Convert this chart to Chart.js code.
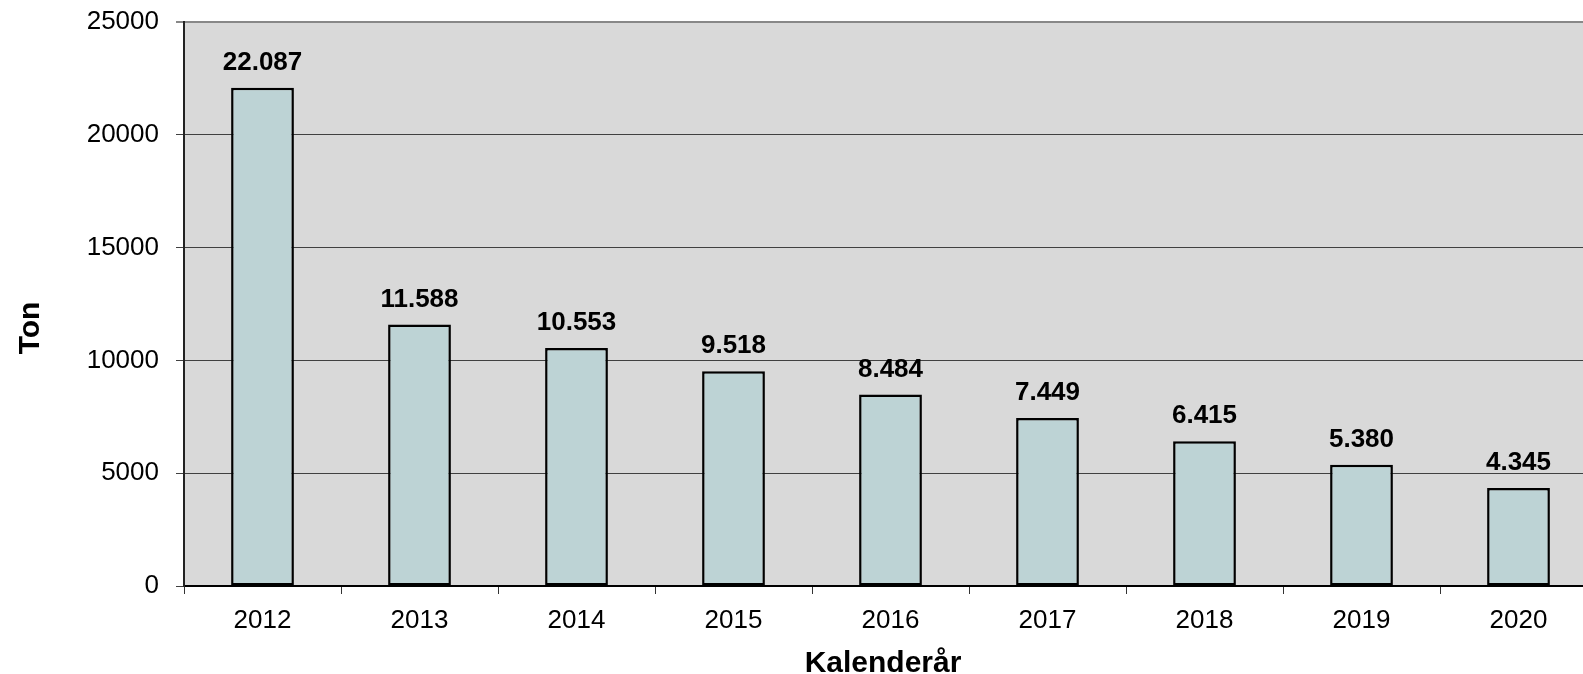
<!DOCTYPE html>
<html>
<head>
<meta charset="utf-8">
<script src="https://cdn.jsdelivr.net/npm/chart.js@4"></script>
<style>
  html, body { margin: 0; padding: 0; background: #fff; overflow: hidden; }
  /* the original picture is cut off on the right, so the canvas is a bit wider than the view */
  #wrap { width: 1583px; height: 674px; overflow: hidden; }
</style>
</head>
<body>
<div id="wrap"><canvas id="graph" width="1597" height="674"></canvas></div>
<script>
const years = ['2012', '2013', '2014', '2015', '2016', '2017', '2018', '2019', '2020'];
const tonValues = [22087, 11588, 10553, 9518, 8484, 7449, 6415, 5380, 4345];
const yTicks = [0, 5000, 10000, 15000, 20000, 25000];
const xTitle = 'Kalenderår';
const yTitle = 'Ton';

const ctx = document.getElementById('graph');
const FONT = '"Liberation Sans", Arial, sans-serif';

// 22087 -> "22.087"
function formatDk(v) {
  return String(v).replace(/\B(?=(\d{3})+(?!\d))/g, '.');
}

const plotBackground = {
  id: 'plotBackground',
  beforeDraw(chart) {
    const a = chart.chartArea;
    const c = chart.ctx;
    c.save();
    c.fillStyle = '#d9d9d9';
    c.fillRect(a.left, a.top, a.right - a.left, a.bottom - a.top);
    c.restore();
  }
};

const valueLabels = {
  id: 'valueLabels',
  afterDatasetsDraw(chart) {
    const c = chart.ctx;
    const meta = chart.getDatasetMeta(0);
    c.save();
    c.font = 'bold 26px ' + FONT;
    c.fillStyle = '#000';
    c.textAlign = 'center';
    c.textBaseline = 'middle';
    meta.data.forEach((bar, i) => {
      c.fillText(formatDk(tonValues[i]), bar.x, bar.y - 25);
    });
    c.restore();
  }
};

// axis titles, placed like in the original (Ton sits a bit below the middle)
const axisTitles = {
  id: 'axisTitles',
  afterDraw(chart) {
    const c = chart.ctx;
    c.save();
    c.font = 'bold 30px ' + FONT;
    c.fillStyle = '#000';
    c.textAlign = 'center';
    c.textBaseline = 'middle';
    c.fillText(xTitle, 883, 664);
    c.translate(31, 328);
    c.rotate(-Math.PI / 2);
    c.fillText(yTitle, 0, 0);
    c.restore();
  }
};

Chart.defaults.font.family = FONT;
Chart.defaults.color = '#000';

new Chart(ctx, {
  type: 'bar',
  data: {
    labels: years,
    datasets: [{
      label: yTitle,
      data: tonValues,
      backgroundColor: '#bdd3d5',
      borderColor: '#000',
      borderWidth: 2.5,
      borderSkipped: false,
      categoryPercentage: 1,
      barPercentage: 0.4
    }]
  },
  options: {
    responsive: false,
    animation: false,
    layout: { padding: { top: 22, left: 0, right: 0, bottom: 0 } },
    plugins: {
      legend: { display: false },
      tooltip: { enabled: false }
    },
    scales: {
      x: {
        offset: true,
        grid: {
          offset: true,
          drawOnChartArea: false,
          tickLength: 8,
          color: '#333',
          lineWidth: 1
        },
        border: { color: '#000', width: 2 },
        ticks: { font: { size: 26 }, padding: 11, maxRotation: 0 },
        afterFit(scale) {
          scale.height = 88;
          scale.paddingLeft = 0;
          scale.paddingRight = 0;
        }
      },
      y: {
        min: 0,
        max: 25000,
        afterBuildTicks(scale) { scale.ticks = yTicks.map(v => ({ value: v })); },
        grid: {
          color: (c) => c.tick && c.tick.value === 25000 ? '#888' : '#404040',
          lineWidth: (c) => c.tick && c.tick.value === 25000 ? 2 : 1,
          tickLength: 8
        },
        border: { color: '#222', width: 2 },
        ticks: {
          font: { size: 26 },
          padding: 17,
          callback: (v) => String(v)
        },
        afterFit(scale) {
          scale.width = 184;
          scale.paddingTop = 0;
          scale.paddingBottom = 0;
        }
      }
    }
  },
  plugins: [plotBackground, valueLabels, axisTitles]
});
</script>
</body>
</html>
